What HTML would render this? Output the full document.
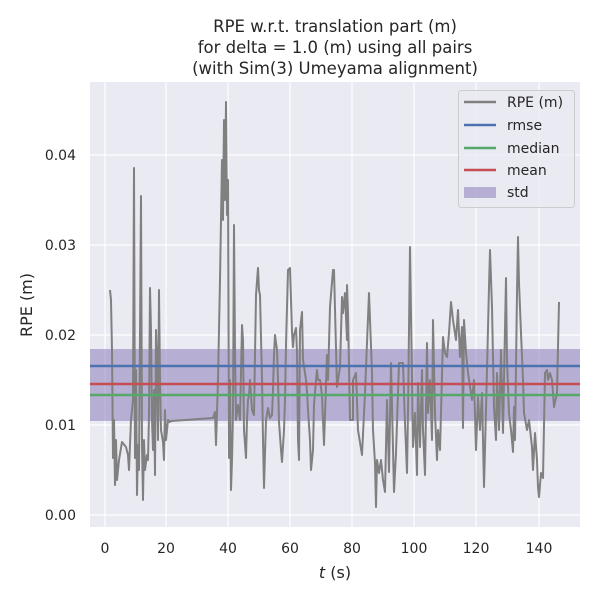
<!DOCTYPE html>
<html><head><style>
body{margin:0;background:#fff;}
svg text{font-family:"DejaVu Sans","Liberation Sans",sans-serif;fill:#262626;}
</style></head><body>
<svg width="600" height="600" viewBox="0 0 600 600" xmlns="http://www.w3.org/2000/svg">
<rect x="90" y="82" width="490" height="445" fill="#eaeaf2"/>
<g stroke="#fff" stroke-width="1.2">
<line x1="105" y1="82" x2="105" y2="527"/><line x1="166" y1="82" x2="166" y2="527"/>
<line x1="228" y1="82" x2="228" y2="527"/><line x1="290" y1="82" x2="290" y2="527"/>
<line x1="352" y1="82" x2="352" y2="527"/><line x1="414" y1="82" x2="414" y2="527"/>
<line x1="476" y1="82" x2="476" y2="527"/><line x1="539" y1="82" x2="539" y2="527"/>
<line x1="90" y1="515" x2="580" y2="515"/><line x1="90" y1="425" x2="580" y2="425"/>
<line x1="90" y1="335" x2="580" y2="335"/><line x1="90" y1="245" x2="580" y2="245"/>
<line x1="90" y1="155" x2="580" y2="155"/>
</g>
<rect x="90" y="349" width="490" height="72" fill="#8172b3" fill-opacity="0.5"/>
<polyline fill="none" stroke="#808080" stroke-width="2" stroke-linejoin="round" points="110,290 111,300 112,350 113,458 114,420 115,485 116,440 117,480 119,460 122,442 126,447 128,455 129,470 131,420 133,400 134,168 135,458 136,370 137,495 138,445 139,470 141,196 142,445 143,500 144,440 145,470 147,455 148,460 149,415 150,288 151,330 152,420 153,450 154,390 155,475 156,330 157,360 158,440 159,290 160,380 161,430 163,442 164,460 165,410 166,440 167,430 168,420 170,422 171,421 213,418 215,412 216,445 218,380 220,280 222,160 223,220 224,120 225,200 226,102 227,215 228,180 229,458 230,380 231,490 232,460 233,412 234,225 235,350 236,420 238,405 240,420 242,325 243,340 244,430 246,458 247,420 248,400 249,395 250,380 252,410 254,415 256,295 258,268 259,290 260,295 262,380 263,440 264,488 266,420 268,408 270,418 272,415 273,390 274,355 275,335 277,350 278,380 279,422 281,450 282,462 284,430 285,400 286,345 288,270 290,268 291,300 292,332 293,347 294,335 296,328 297,352 298,440 299,460 300,330 302,312 303,360 306,380 307,392 308,410 310,440 311,470 313,450 314,405 316,380 317,370 318,380 320,380 322,395 324,445 326,384 327,355 328,380 330,307 333,270 334,270 337,387 340,367 342,297 343,313 345,293 347,340 347,285 348,313 350,420 353,420 353,380 356,373 358,430 362,455 365,393 369,293 372,373 373,430 375,463 376,507 377,460 379,473 381,460 383,480 385,492 387,400 389,472 391,363 394,492 396,453 399,363 403,363 405,423 407,473 408,413 410,247 412,380 413,447 415,413 417,475 418,383 420,447 422,370 423,430 425,475 427,343 428,413 430,380 432,440 433,320 435,413 437,460 438,430 440,450 443,337 445,353 447,357 449,333 451,302 453,320 456,340 458,310 460,357 462,327 463,428 464,320 466,353 468,373 472,400 474,380 476,450 478,397 480,430 482,393 484,487 487,370 489,287 490,250 492,307 494,407 496,440 497,373 499,430 501,350 503,433 504,380 506,278 507,360 509,413 511,430 513,452 514,407 515,440 517,293 518,237 519,283 521,333 523,380 524,413 527,430 529,420 532,447 533,470 535,433 537,460 538,487 539,497 541,473 543,478 545,373 547,370 548,380 550,373 552,380 554,407 557,393 559,302"/>
<line x1="90" y1="366" x2="580" y2="366" stroke="#4c72b0" stroke-width="2.5"/>
<line x1="90" y1="384" x2="580" y2="384" stroke="#c44e52" stroke-width="2.5"/>
<line x1="90" y1="395" x2="580" y2="395" stroke="#55a868" stroke-width="2.5"/>
<rect x="458.5" y="90.5" width="116" height="117" rx="3" fill="#eaeaf2" fill-opacity="0.8" stroke="#cccccc"/>
<line x1="464" y1="102" x2="496" y2="102" stroke="#808080" stroke-width="2.5"/>
<line x1="464" y1="125" x2="496" y2="125" stroke="#4c72b0" stroke-width="2.5"/>
<line x1="464" y1="148" x2="496" y2="148" stroke="#55a868" stroke-width="2.5"/>
<line x1="464" y1="170" x2="496" y2="170" stroke="#c44e52" stroke-width="2.5"/>
<rect x="464" y="187" width="32" height="11" fill="#8172b3" fill-opacity="0.5"/>
<g font-size="14">
<text x="507" y="107">RPE (m)</text><text x="507" y="130">rmse</text>
<text x="507" y="153">median</text><text x="507" y="175">mean</text><text x="507" y="197">std</text>
</g>
<g font-size="14" text-anchor="end">
<text x="76" y="520">0.00</text><text x="76" y="430">0.01</text><text x="76" y="340">0.02</text>
<text x="76" y="250">0.03</text><text x="76" y="160">0.04</text>
</g>
<g font-size="14" text-anchor="middle">
<text x="105" y="553">0</text><text x="166" y="553">20</text><text x="228" y="553">40</text>
<text x="290" y="553">60</text><text x="352" y="553">80</text><text x="414" y="553">100</text>
<text x="476" y="553">120</text><text x="539" y="553">140</text>
<text x="335" y="578" font-size="16"><tspan font-style="italic">t</tspan> (s)</text>
<text x="335" y="32" font-size="16.5">RPE w.r.t. translation part (m)</text>
<text x="335" y="53" font-size="16.5">for delta = 1.0 (m) using all pairs</text>
<text x="335" y="74" font-size="16.5">(with Sim(3) Umeyama alignment)</text>
</g>
<text transform="translate(32,305) rotate(-90)" font-size="16" text-anchor="middle">RPE (m)</text>
</svg>
</body></html>
